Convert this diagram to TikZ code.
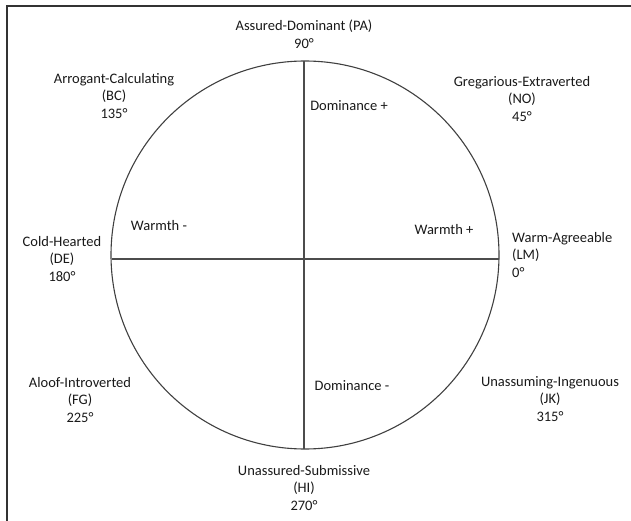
\documentclass[tikz,border=0pt]{standalone}
\usepackage{fontspec}
\setmainfont{Carlito}
\begin{document}
\begin{tikzpicture}[x=1pt,y=-1pt,
  lbl/.style={font=\fontsize{14.5}{17.5}\selectfont, text=black!90, inner sep=0pt, align=center},
  axisline/.style={draw=black!70, line width=1.6pt},
  ring/.style={draw=black!75, line width=1.1pt}]
\useasboundingbox (0,0) rectangle (631,521);
% frame
\draw[draw=black!80, line width=1.1pt] (7,521) -- (7,6) -- (631,6);
% circle
\node[ring, circle, minimum size=388pt, inner sep=0pt] (C) at (305,255) {};
\coordinate (T) at (304,61);
\coordinate (B) at (304,449);
\coordinate (L) at (112,259);
\coordinate (R) at (499,259);
\draw[axisline] (T) -- (B);
\draw[axisline] (L) -- (R);
% labels
\node[lbl] (PA) at (304,34) {Assured-Dominant (PA)\\90°};
\node[lbl] (BC) at (114,96) {Arrogant-Calculating\\(BC)\\135°};
\node[lbl] (NO) at (522,99) {Gregarious-Extraverted\\(NO)\\45°};
\node[lbl] (DE) at (62,259) {Cold-Hearted\\(DE)\\180°};
\node[lbl, align=left, anchor=west] (LM) at (512,255) {Warm-Agreeable\\(LM)\\0°};
\node[lbl] (FG) at (80,400) {Aloof-Introverted\\(FG)\\225°};
\node[lbl] (JK) at (550,399) {Unassuming-Ingenuous\\(JK)\\315°};
\node[lbl] (HI) at (304,488) {Unassured-Submissive\\(HI)\\270°};
\node[lbl] (Dp) at (349,106) {Dominance +};
\node[lbl] (Dm) at (352,386) {Dominance -};
\node[lbl] (Wm) at (159,226) {Warmth -};
\node[lbl] (Wp) at (444,230) {Warmth +};
\end{tikzpicture}
\end{document}
